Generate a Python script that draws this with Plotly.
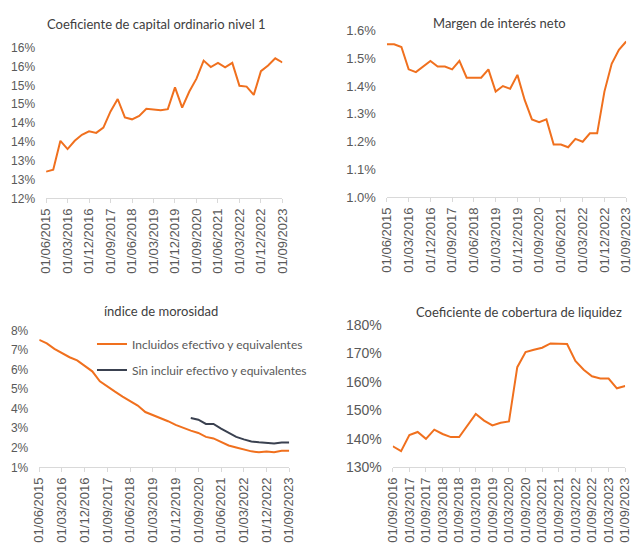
import plotly.graph_objects as go

# ---------------- DATA ----------------
dates_q = ["01/06/2015", "01/09/2015", "01/12/2015", "01/03/2016", "01/06/2016", "01/09/2016",
           "01/12/2016", "01/03/2017", "01/06/2017", "01/09/2017", "01/12/2017", "01/03/2018",
           "01/06/2018", "01/09/2018", "01/12/2018", "01/03/2019", "01/06/2019", "01/09/2019",
           "01/12/2019", "01/03/2020", "01/06/2020", "01/09/2020", "01/12/2020", "01/03/2021",
           "01/06/2021", "01/09/2021", "01/12/2021", "01/03/2022", "01/06/2022", "01/09/2022",
           "01/12/2022", "01/03/2023", "01/06/2023", "01/09/2023"]
dates_liq = dates_q[5:]

cet1 = [12.71, 12.76, 13.53, 13.31, 13.53, 13.69, 13.78, 13.74, 13.88, 14.31, 14.64, 14.15,
        14.10, 14.19, 14.38, 14.36, 14.34, 14.37, 14.95, 14.41, 14.84, 15.18, 15.66, 15.49,
        15.60, 15.48, 15.60, 14.99, 14.97, 14.75, 15.38, 15.53, 15.72, 15.61]

margen = [1.55, 1.55, 1.54, 1.46, 1.45, 1.47, 1.49, 1.47, 1.47, 1.46, 1.49, 1.43,
          1.43, 1.43, 1.46, 1.38, 1.40, 1.39, 1.44, 1.35, 1.28, 1.27, 1.28, 1.19,
          1.19, 1.18, 1.21, 1.20, 1.23, 1.23, 1.38, 1.48, 1.53, 1.56]

moros_incl = [7.52, 7.34, 7.06, 6.85, 6.63, 6.47, 6.17, 5.91, 5.40, 5.12, 4.87, 4.62,
              4.38, 4.16, 3.83, 3.68, 3.52, 3.36, 3.17, 3.01, 2.88, 2.76, 2.56, 2.48,
              2.28, 2.12, 2.02, 1.92, 1.82, 1.77, 1.81, 1.77, 1.85, 1.85]
moros_sin = [None] * 20 + [3.52, 3.44, 3.22, 3.22, 2.98, 2.76, 2.56, 2.43, 2.32, 2.28,
                           2.25, 2.22, 2.27, 2.27]

liquidez = [137.4, 135.7, 141.3, 142.4, 140.0, 143.2, 141.7, 140.6, 140.6, 144.7, 148.7,
            146.4, 144.7, 145.6, 146.1, 165.1, 170.4, 171.2, 171.9, 173.4, 173.4, 173.2,
            167.3, 164.2, 161.9, 161.1, 161.1, 157.7, 158.5]

titles = ["Coeficiente de capital ordinario nivel 1", "Margen de interés neto",
          "índice de morosidad", "Coeficiente de cobertura de liquidez"]
legend_names = ["Incluidos efectivo y equivalentes", "Sin incluir efectivo y equivalentes"]

cet1_ticks = [12.0, 12.5, 13.0, 13.5, 14.0, 14.5, 15.0, 15.5, 16.0]
cet1_ticktext = ["12%", "13%", "13%", "14%", "14%", "15%", "15%", "16%", "16%"]

# ---------------- STYLE ----------------
ORANGE = "#F0701E"
DARK = "#3A4150"
AXIS = "#D9D9D9"
TXT = "#595959"
W, H = 640, 556

def px_dom_x(a, b):
    return [a / W, b / W]

def px_dom_y(top, bottom):
    return [1 - bottom / H, 1 - top / H]

fig = go.Figure()

fig.add_trace(go.Scatter(x=dates_q, y=cet1, mode="lines", line=dict(color=ORANGE, width=2),
                         showlegend=False, xaxis="x", yaxis="y"))
fig.add_trace(go.Scatter(x=dates_q, y=margen, mode="lines", line=dict(color=ORANGE, width=2),
                         showlegend=False, xaxis="x2", yaxis="y2"))
fig.add_trace(go.Scatter(x=dates_q, y=moros_incl, mode="lines", line=dict(color=ORANGE, width=2),
                         name=legend_names[0], legendgroup="a", xaxis="x3", yaxis="y3"))
fig.add_trace(go.Scatter(x=dates_q, y=moros_sin, mode="lines", line=dict(color=DARK, width=2),
                         name=legend_names[1], legendgroup="b", xaxis="x3", yaxis="y3"))
fig.add_trace(go.Scatter(x=dates_liq, y=liquidez, mode="lines", line=dict(color=ORANGE, width=2),
                         showlegend=False, xaxis="x4", yaxis="y4"))

def xax(dom_x, anchor, cats, step, fs):
    return dict(domain=dom_x, anchor=anchor, type="category", categoryorder="array",
                categoryarray=cats, range=[0, len(cats) - 1],
                tickvals=cats[::step], ticktext=cats[::step], tickangle=-90,
                showline=True, linecolor=AXIS, linewidth=1,
                ticks="outside", ticklen=4, tickcolor=AXIS,
                showgrid=False, zeroline=False,
                tickfont=dict(family="Liberation Sans", size=fs, color=TXT))

def yax(dom_y, anchor, rng, fs, **kw):
    d = dict(domain=dom_y, anchor=anchor, range=rng, showline=False, showgrid=False,
             zeroline=False, ticks="", ticklabelstandoff=10,
             tickfont=dict(family="Liberation Sans", size=fs, color=TXT))
    d.update(kw)
    return d

fig.update_layout(
    width=W, height=H, margin=dict(l=0, r=0, t=0, b=0),
    paper_bgcolor="white", plot_bgcolor="white",
    xaxis=xax(px_dom_x(39, 281), "y", dates_q, 3, 13),
    yaxis=yax(px_dom_y(41, 196), "x", [12, 16], 12, tickvals=cet1_ticks, ticktext=cet1_ticktext),
    xaxis2=xax(px_dom_x(388, 633), "y2", dates_q, 3, 13),
    yaxis2=yax(px_dom_y(23, 195), "x2", [1.0, 1.6], 13, dtick=0.1, tickformat=".1f", ticksuffix="%"),
    xaxis3=xax(px_dom_x(32, 288), "y3", dates_q, 3, 13),
    yaxis3=yax(px_dom_y(332, 473), "x3", [1, 8], 12, dtick=1, ticksuffix="%"),
    xaxis4=xax(px_dom_x(394, 632), "y4", dates_liq, 2, 13),
    yaxis4=yax(px_dom_y(326, 473), "x4", [130, 180], 14, dtick=10, ticksuffix="%"),
    legend=dict(x=86 / W, y=1 - 331 / H, xanchor="left", yanchor="top",
                bgcolor="rgba(0,0,0,0)", tracegroupgap=7, traceorder="grouped",
                font=dict(family="Lato", size=12, color=TXT)),
    showlegend=True,
)

title_pos = [(152, 16), (503, 15), (157, 312), (523, 313)]
for t, (cx, cy) in zip(titles, title_pos):
    fig.add_annotation(text=t, x=cx / W, y=1 - cy / H, xref="paper", yref="paper",
                       showarrow=False, xanchor="center", yanchor="middle",
                       font=dict(family="Lato", size=13, color="#404040"))

fig.write_html("out.html", config={"displayModeBar": False},
               post_script="document.body.style.margin='0';document.body.style.overflow='hidden';")
